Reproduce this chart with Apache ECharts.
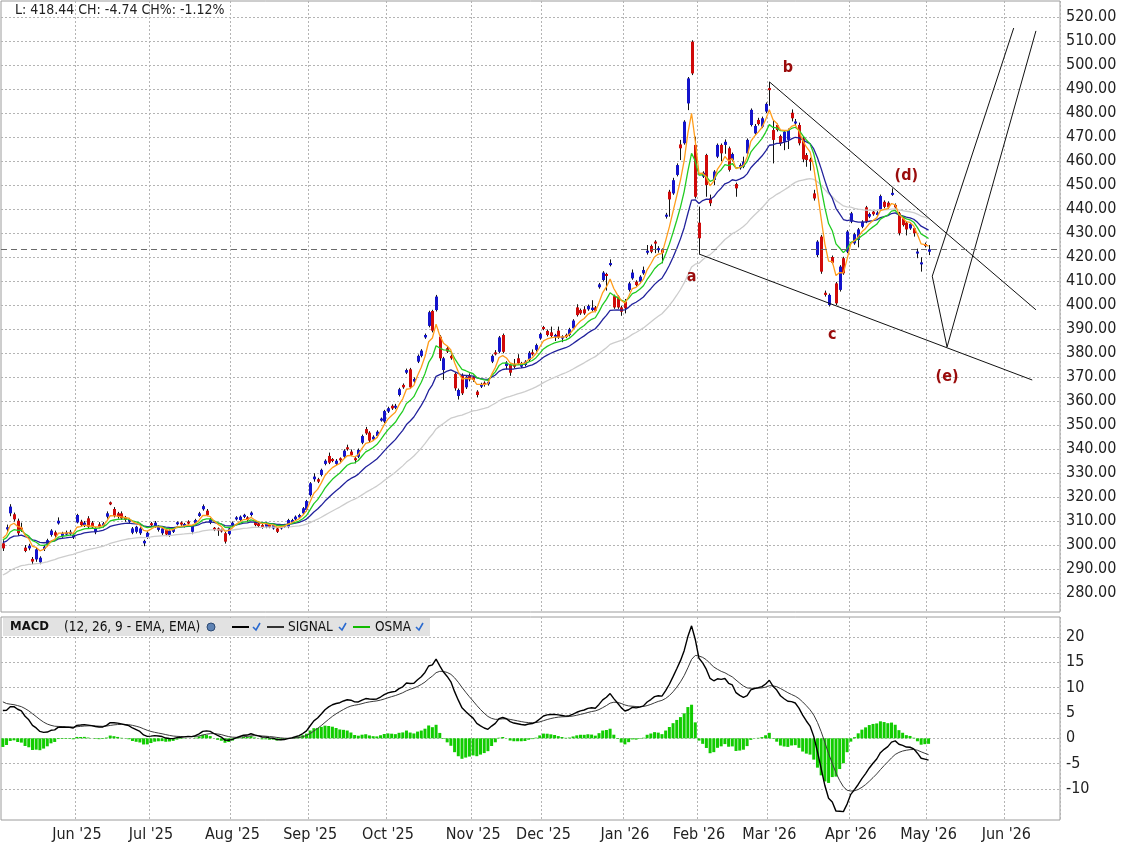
<!DOCTYPE html>
<html>
<head>
<meta charset="utf-8">
<script src="https://cdn.jsdelivr.net/npm/echarts@6/dist/echarts.min.js"></script>
<style>html,body{margin:0;padding:0;background:#fff;}</style>
</head>
<body>
<div id="echartsMain" style="width:1124px;height:849px;"></div>
<script type="text/javascript">
    // ---- data ----
    const holidays = ['2025-05-26', '2025-06-19', '2025-07-04', '2025-09-01', '2025-11-27',
        '2025-12-25', '2026-01-01', '2026-01-19', '2026-02-16', '2026-04-03'];

    // [open, close, low, high], one row per trading day from 2025-05-02 to 2026-05-01
    const candles = [
        [300.7, 298.6, 297.5, 302], [306.5, 307.4, 305, 308.5], [313.2, 316, 312, 317], [312.8, 310.7, 309.8, 313.5],
        [310.1, 304.9, 303.8, 311], [307, 306.6, 305.5, 309.3], [298.9, 297.5, 297, 300], [298.6, 299.7, 297.8, 300.5],
        [294.2, 293.1, 292, 295], [294, 298.2, 293, 298.8], [292.8, 294.7, 292, 295.3], [298.3, 299.3, 297.5, 300],
        [300.5, 302, 299.6, 302.6], [304.2, 306, 303.5, 306.6], [305.3, 303.9, 303, 306], [309, 310.1, 308.5, 311.5],
        [303.8, 304.9, 303, 305.5], [304.4, 305.1, 303.8, 306], [304.6, 305.5, 304, 306.3], [303.2, 304.2, 302.5, 305],
        [309.4, 312.5, 309, 313], [309.7, 308.3, 307.8, 310.5], [308.3, 309.3, 307.5, 310], [311.1, 307.6, 307, 312],
        [309.3, 307.4, 306.8, 310], [305.3, 306.9, 304.5, 307.5], [308.6, 307.6, 307, 309.5], [307.9, 309, 307.3, 309.6],
        [311.8, 313.2, 311, 314], [317.6, 317.1, 316.6, 318.1], [315, 312.1, 311.5, 315.8], [313.2, 311.8, 311, 313.8],
        [313.2, 311.1, 310.5, 314], [311, 310.9, 309.7, 312.1], [309.7, 310.7, 309, 311.3], [305.1, 306.9, 304.5, 307.5],
        [305.5, 307.6, 304.8, 308], [304.9, 306.9, 304.2, 307.4], [300.7, 301.7, 299.5, 302.2], [303.2, 305.1, 302.6, 305.7],
        [309, 308.3, 307.8, 309.6], [307.9, 309.3, 307.2, 310], [306.3, 307.6, 305.6, 308.2], [304.9, 306.9, 304.2, 307.3],
        [306.3, 304.4, 303.7, 306.8], [304.2, 306, 303.4, 306.5], [305.5, 306.9, 305, 307.4], [308.8, 309.3, 308.2, 309.8],
        [309.3, 308.6, 308, 309.8], [308.3, 308.4, 307.3, 309.2], [309.7, 309, 308.5, 310.3], [305.5, 307.9, 304.5, 308.3],
        [309.1, 310.4, 308.6, 310.9], [312.1, 313.2, 311.7, 313.8], [314.9, 316.2, 314.3, 316.9], [314.3, 312.5, 312, 315],
        [309.3, 310.7, 308.7, 311.2], [306.9, 306.6, 305.8, 307.5], [306.9, 306, 303.8, 307.3], [306.3, 305.9, 305.2, 306.8],
        [304.9, 301.4, 300.6, 305.4], [304.6, 306.9, 304, 307.3], [308.3, 309.3, 307.8, 309.8], [310.7, 311.5, 310.2, 312],
        [310.4, 311.8, 309.9, 312.3], [311.8, 312.5, 311.2, 313], [311.5, 310.4, 309.9, 312], [312.5, 313.5, 311.9, 314],
        [309.7, 308.3, 307.8, 310.2], [309, 307.9, 307.3, 309.6], [308.3, 307.4, 306.8, 308.8], [307.6, 309, 307, 309.5],
        [308.3, 307.6, 307, 308.8], [306.9, 308.3, 306.4, 308.8], [306.9, 305.5, 305, 307.4], [306.9, 307.9, 306.4, 308.3],
        [307.6, 308.3, 307.1, 308.8], [307.6, 310.4, 307, 310.9], [309.3, 310.4, 308.8, 310.9], [310.7, 311.8, 310.2, 312.3],
        [311.5, 312.5, 311, 313], [313.2, 315.3, 312.7, 315.8], [314.6, 318.3, 314, 318.8], [320.8, 325.7, 320.2, 326.2],
        [327.4, 328.5, 326.4, 329.9], [327.4, 326.4, 325.8, 328], [329.2, 331.3, 328.6, 331.8], [333.8, 335.1, 333.2, 335.7],
        [337.1, 334.3, 333.7, 338.5], [335.6, 335.2, 334.5, 336.2], [333.8, 335.1, 333.2, 335.8], [335.9, 335.5, 334.6, 336.5],
        [336.8, 339.3, 336.2, 339.9], [340.5, 340.1, 339.3, 341.8], [338.9, 337.5, 337, 339.8], [336.1, 335.4, 334, 336.6],
        [336.8, 339.6, 336.2, 340.2], [342.6, 345.4, 342, 346], [348.3, 346.5, 345.9, 349.2], [346.8, 343.5, 342.9, 347.4],
        [344, 345.1, 343.4, 345.7], [345.4, 347.2, 344.8, 347.8], [351.9, 352.6, 351.4, 353.1], [351.4, 355.8, 350.8, 356.3],
        [355.6, 357, 355, 357.6], [358, 356.9, 356.3, 358.6], [357.2, 358, 356.6, 358.8], [362.5, 364.9, 361.9, 365.5],
        [366.7, 365.7, 365.1, 367.3], [371.8, 372.9, 371.2, 373.5], [373.2, 365.7, 365, 373.8], [368.1, 369.2, 367.4, 369.8],
        [376.4, 378.8, 375.8, 379.4], [378.8, 381, 378.2, 381.6], [386.5, 387.5, 385.9, 388.1], [391.3, 397, 390.7, 397.6],
        [397.5, 389.3, 388.6, 398], [397.9, 403.5, 397.3, 404.2], [386.8, 377.8, 376.7, 387.5], [372.9, 377.8, 368.8, 378.4],
        [382, 380.6, 380, 382.6], [378.8, 377.8, 377.2, 379.4], [371.3, 365.3, 364.3, 371.9], [362.1, 364.6, 360.6, 365.2],
        [370.8, 363.2, 362.5, 371.5], [365.7, 370.1, 365, 370.8], [370.8, 369, 368.2, 371.5], [369.9, 368.8, 368, 370.5],
        [363.9, 362.5, 361.5, 364.5], [366, 367, 365.4, 367.6], [367.6, 366.7, 366, 368.2], [367, 368, 366.4, 368.6],
        [376.4, 378.8, 375.8, 379.4], [380.1, 379.6, 379, 381.2], [380.5, 386.5, 379.9, 387.1], [387.5, 380.5, 379.9, 388.1],
        [374.6, 376, 373.2, 376.6], [375, 371.8, 370.5, 375.6], [375.3, 374.3, 373.7, 377.5], [377.8, 375.7, 375.1, 379.5],
        [374.3, 375.7, 373.7, 376.3], [375, 376.4, 374.4, 377], [377.1, 380.1, 376.5, 380.8], [380.1, 379.6, 378.9, 381.5],
        [381.3, 383.3, 380.6, 383.9], [386.1, 387.9, 385.5, 388.5], [390.7, 390.1, 389.5, 391.3], [389.2, 387.5, 386.9, 389.8],
        [388.6, 387.1, 386.5, 391], [386.8, 387.4, 385, 388], [389.3, 386.5, 385.9, 391], [386.1, 386.8, 384.5, 387.4],
        [387.5, 386.8, 386.2, 388.1], [387.5, 389.9, 386.9, 390.5], [390.3, 393.5, 389.7, 394.1], [399, 395.8, 395.2, 400.3],
        [397.9, 396.5, 395.9, 398.5], [398.2, 396.5, 395.9, 399.5], [398.2, 399.6, 397.6, 400.2], [397.9, 398.9, 397.3, 402],
        [399, 397.6, 397, 399.6], [407.4, 408.6, 406.8, 409.2], [410.4, 413.5, 409.8, 414.1], [412.8, 412.2, 406, 413.4],
        [416.7, 417.4, 416.1, 419], [403.7, 399, 398.4, 404.3], [403.5, 399, 398.4, 404.1], [399, 397.2, 395.5, 399.6],
        [401.4, 398.6, 396.5, 402.5], [406.3, 409, 405.6, 409.6], [411.1, 413.5, 410.5, 414.8], [409.7, 408.3, 407.7, 410.3],
        [409.7, 411.8, 409.1, 412.4], [413.2, 414.6, 412.6, 416], [421.9, 422.5, 421, 425], [424.6, 422.2, 421.6, 425.2],
        [426.3, 425.7, 421.6, 427], [422.9, 423.6, 421.8, 424.5], [422.9, 421.8, 417.4, 423.6], [436.8, 437.6, 436, 438.4],
        [447.2, 444, 436.8, 448], [446.5, 452, 445.9, 453], [454.2, 458.3, 453.6, 459], [466.9, 465.3, 460.4, 468.8],
        [467.4, 476.4, 466.8, 477], [484, 494.4, 481.2, 495], [509.7, 496.5, 495.8, 510.3], [466.7, 445.1, 444.4, 470.1],
        [434.3, 427.8, 421.3, 441], [453.5, 455.1, 452.9, 455.7], [462.5, 450, 445.1, 463], [444.4, 442.4, 441.2, 446],
        [452.1, 455.6, 450, 456.2], [461.8, 466.7, 461.2, 467.3], [466.7, 463.2, 460, 467.3], [466.7, 468, 463, 469],
        [465.3, 456.3, 455.6, 466], [460.4, 462.9, 459.8, 463.5], [450.4, 448.6, 445.1, 451], [457, 458.3, 456.4, 459],
        [457.6, 459.7, 457, 461.8], [463.2, 468.8, 462.6, 469.4], [475, 481.3, 474.4, 481.9], [471.5, 474.6, 470.9, 475.4],
        [477.1, 475.4, 474.8, 478], [474.3, 477.8, 473.7, 478.5], [480.6, 483.8, 480, 484.4], [490.3, 489.6, 483, 492.9],
        [472.9, 468.8, 459, 477], [475, 472.9, 472.3, 475.6], [470.4, 467.4, 466.3, 471], [468, 472.2, 464.5, 472.8],
        [468.8, 472.9, 465, 473.5], [480.1, 477.8, 476.5, 481.5], [475.8, 476.3, 474.5, 477.5], [475, 467.4, 466.5, 476],
        [469.4, 460.7, 459.5, 470], [462.5, 460.4, 457.6, 463.3], [460.7, 459.7, 456, 461.4], [446.5, 444.4, 443.5, 448],
        [420.8, 426.4, 420, 427], [428.5, 413.9, 413, 429.2], [405.1, 404.2, 403.5, 406], [400, 404.2, 399.4, 404.8],
        [420, 417.6, 417, 420.6], [409, 400.7, 400, 409.6], [406.3, 416, 405.6, 416.6], [419.5, 413.2, 412.6, 420.1],
        [422.2, 430.6, 421.6, 431.2], [434.7, 438.2, 434.1, 438.8], [425.7, 429.5, 425.1, 430.1], [427.1, 431.5, 424, 432.1],
        [432.6, 434.7, 432, 435.3], [440.7, 434.7, 434.1, 441.3], [436.8, 437.9, 436.2, 438.5], [438.9, 437.8, 437.2, 439.5],
        [437.5, 438.5, 436.9, 439.1], [439.9, 445.4, 439.3, 446], [443, 440.9, 440.3, 443.6], [442.6, 440.7, 440.1, 443.2],
        [446, 446.6, 445.5, 448.6], [441.7, 440.7, 440.1, 442.3], [438.2, 429.9, 429, 438.8], [436.1, 433.3, 432.7, 436.7],
        [434.3, 431.5, 429, 434.9], [431.9, 433.8, 431.3, 434.3], [432, 429.9, 428.5, 432.5], [421.5, 422.2, 419.5, 423.5],
        [417.1, 417.6, 413.9, 419.9], [425.4, 424.6, 424, 426], [422.2, 423.2, 420.8, 425]
    ];

    // moving-average starting values read at the left edge
    const maSeeds = { orange: 302.8, green: 302.1, navy: 301, gray: 287.5 };
    const macdSeeds = { ema12: 301.6, ema26: 296.1, signal: 7.2 };
    const prevClose = 423.18;

    // trend lines: [startIndex, startPrice, endIndex, endPrice]
    const trendSegments = [
        [207, 493, 279, 398],
        [188, 421.25, 278, 368.75],
        [251, 412, 273, 515.4],
        [251, 412, 255, 382.5],
        [255, 382.5, 279, 514.2]
    ];
    // wave labels: [text, index, price]
    const waveLabels = [['a', 186, 411.7], ['b', 212, 498.8], ['c', 224, 387.5], ['(d)', 244, 454], ['(e)', 255, 370]];

    const priceTicks = { min: 280, max: 520, step: 10 };
    const macdTicks = { min: -10, max: 20, step: 5 };

    // ---- helpers ----
    function weekdays(from, to, skip) {
        let out = [];
        let d = new Date(from + 'T00:00:00Z');
        let end = new Date(to + 'T00:00:00Z');
        while (d <= end) {
            let s = d.toISOString().slice(0, 10);
            let wd = d.getUTCDay();
            if (wd !== 0 && wd !== 6 && skip.indexOf(s) < 0) out.push(s);
            d.setUTCDate(d.getUTCDate() + 1);
        }
        return out;
    }

    function ema(src, period, seed) {
        let k = 2 / (period + 1);
        let out = [];
        let prev = seed;
        src.forEach((v, i) => {
            if (i > 0) prev = prev + k * (v - prev);
            out.push(+prev.toFixed(3));
        });
        return out;
    }

    const dates = weekdays('2025-05-02', '2026-05-01', holidays)
        .concat(weekdays('2026-05-04', '2026-06-19', []));
    const closes = candles.map(c => c[1]);

    const maOrange = ema(closes, 5, maSeeds.orange);
    const maGreen = ema(closes, 10, maSeeds.green);
    const maNavy = ema(closes, 20, maSeeds.navy);
    const maGray = ema(closes, 50, maSeeds.gray);

    const e12 = ema(closes, 12, macdSeeds.ema12);
    const e26 = ema(closes, 26, macdSeeds.ema26);
    const macd = e12.map((v, i) => +(v - e26[i]).toFixed(3));
    const signal = ema(macd, 9, macdSeeds.signal);
    const osma = macd.map((v, i) => +(v - signal[i]).toFixed(3));

    const months = ['Jan', 'Feb', 'Mar', 'Apr', 'May', 'Jun', 'Jul', 'Aug', 'Sep', 'Oct', 'Nov', 'Dec'];
    function isMonthStart(i) {
        return i > 0 && dates[i].slice(5, 7) !== dates[i - 1].slice(5, 7);
    }
    function monthLabel(v) {
        return months[+v.slice(5, 7) - 1] + " '" + v.slice(2, 4);
    }

    const FONT = '"DejaVu Sans Condensed", "DejaVu Sans", sans-serif';
    const upColor = '#1414cc';
    const downColor = '#d00a0a';
    const gridLine = { show: true, lineStyle: { color: '#b4b4b4', type: [2, 2], width: 1 } };

    function renderCandle(params, api) {
        let i = api.value(0);
        let o = api.coord([i, api.value(1)]);
        let c = api.coord([i, api.value(2)]);
        let lo = api.coord([i, api.value(3)]);
        let hi = api.coord([i, api.value(4)]);
        let cx = Math.round(o[0]);
        let top = Math.min(o[1], c[1]);
        let h = Math.abs(o[1] - c[1]);
        if (h < 2) {
            top = (o[1] + c[1]) / 2 - 1;
            h = 2;
        }
        let up = api.value(2) >= api.value(1);
        return {
            type: 'group',
            children: [
                { type: 'line', shape: { x1: cx + 0.5, y1: hi[1], x2: cx + 0.5, y2: lo[1] }, style: { stroke: '#111', lineWidth: 1 } },
                { type: 'rect', shape: { x: cx - 1, y: top, width: 3, height: h }, style: { fill: up ? upColor : downColor } }
            ]
        };
    }

    function checkMark(x) {
        return {
            type: 'polyline',
            shape: { points: [[x - 3, 627], [x, 630], [x + 4, 623]] },
            style: { stroke: '#2a6ad0', lineWidth: 1.6, fill: null }
        };
    }

    let myChart = echarts.init(document.getElementById('echartsMain'));

    let hiddenCat = (grid) => ({
        type: 'category', gridIndex: grid, data: dates, boundaryGap: true,
        axisLine: { show: false }, axisTick: { show: false }, axisLabel: { show: false }, splitLine: { show: false }
    });
    let frameCat = (grid, labels) => ({
        type: 'category', gridIndex: grid, data: dates, boundaryGap: true, position: 'bottom',
        axisLine: { show: false }, axisTick: { show: false },
        axisLabel: {
            show: labels, interval: isMonthStart, formatter: monthLabel, margin: 7,
            color: '#222', fontSize: 16, fontFamily: FONT
        },
        splitLine: Object.assign({ interval: isMonthStart }, gridLine)
    });

    let option = {
        animation: false,
        backgroundColor: '#fff',
        grid: [
            { left: 1, right: 64, top: 17, height: 576, outerBoundsMode: 'none' },
            { left: 1, right: 64, top: 1, height: 611, show: true, borderColor: '#9c9c9c', borderWidth: 1, backgroundColor: 'transparent', outerBoundsMode: 'none' },
            { left: 1, right: 64, top: 637, height: 152, outerBoundsMode: 'none' },
            { left: 1, right: 64, top: 617, height: 203, show: true, borderColor: '#9c9c9c', borderWidth: 1, backgroundColor: 'transparent', outerBoundsMode: 'none' }
        ],
        xAxis: [hiddenCat(0), frameCat(1, false), hiddenCat(2), frameCat(3, true)],
        yAxis: [
            {
                type: 'value', gridIndex: 0, position: 'right', min: priceTicks.min, max: priceTicks.max, interval: priceTicks.step,
                axisLine: { show: false }, axisTick: { show: false },
                axisLabel: { formatter: v => v.toFixed(2), margin: 6, color: '#222', fontSize: 16, fontFamily: FONT },
                splitLine: gridLine
            },
            { type: 'value', gridIndex: 1, show: false, min: 0, max: 1 },
            {
                type: 'value', gridIndex: 2, position: 'right', min: macdTicks.min, max: macdTicks.max, interval: macdTicks.step,
                axisLine: { show: false }, axisTick: { show: false },
                axisLabel: { margin: 6, color: '#222', fontSize: 16, fontFamily: FONT },
                splitLine: gridLine
            },
            { type: 'value', gridIndex: 3, show: false, min: 0, max: 1 }
        ],
        series: [
            {
                name: 'Candles', type: 'custom', xAxisIndex: 0, yAxisIndex: 0, z: 2,
                renderItem: renderCandle,
                encode: { x: 0, y: [1, 2, 3, 4] },
                data: candles.map((c, i) => [i, c[0], c[1], c[2], c[3]])
            },
            {
                name: 'MA gray', type: 'line', xAxisIndex: 0, yAxisIndex: 0, z: 3, data: maGray,
                showSymbol: false, lineStyle: { color: '#cdcdcd', width: 1.3 },
                markLine: {
                    silent: true, symbol: ['none', 'none'], label: { show: false },
                    lineStyle: { color: '#111', width: 1, type: 'solid' },
                    data: trendSegments.map(s => [{ coord: [s[0], s[1]] }, { coord: [s[2], s[3]] }])
                },
                markPoint: {
                    silent: true, symbol: 'circle', symbolSize: 1, itemStyle: { color: 'rgba(0,0,0,0)' },
                    label: {
                        show: true, position: 'inside', formatter: p => p.name,
                        color: '#9a0c0c', fontSize: 16, fontWeight: 'bold', fontFamily: FONT
                    },
                    data: waveLabels.map(w => ({ name: w[0], coord: [w[1], w[2]] }))
                }
            },
            { name: 'MA navy', type: 'line', xAxisIndex: 0, yAxisIndex: 0, z: 3, data: maNavy, showSymbol: false, lineStyle: { color: '#22229c', width: 1.3 } },
            { name: 'MA green', type: 'line', xAxisIndex: 0, yAxisIndex: 0, z: 3, data: maGreen, showSymbol: false, lineStyle: { color: '#22cc22', width: 1.3 } },
            {
                name: 'MA orange', type: 'line', xAxisIndex: 0, yAxisIndex: 0, z: 3, data: maOrange,
                showSymbol: false, lineStyle: { color: '#ff9d1c', width: 1.3 },
                markLine: {
                    silent: true, symbol: ['none', 'none'], label: { show: false },
                    lineStyle: { color: '#6a6a6a', width: 1, type: [6, 4] },
                    data: [{ yAxis: prevClose }]
                }
            },
            {
                name: 'OSMA', type: 'bar', xAxisIndex: 2, yAxisIndex: 2, data: osma,
                barWidth: 3, itemStyle: { color: '#11cc00' }
            },
            {
                name: 'SIGNAL', type: 'line', xAxisIndex: 2, yAxisIndex: 2, data: signal, clip: false,
                showSymbol: false, lineStyle: { color: '#3a3a3a', width: 1 }
            },
            {
                name: 'MACD', type: 'line', xAxisIndex: 2, yAxisIndex: 2, data: macd, clip: false,
                showSymbol: false, lineStyle: { color: '#000', width: 1.4 }
            }
        ],
        graphic: [
            {
                type: 'text', left: 15, top: 3, z: 10,
                style: { text: 'L: 418.44 CH: -4.74 CH%: -1.12%', fill: '#222', font: '14px ' + FONT }
            },
            { type: 'rect', shape: { x: 3, y: 618, width: 427, height: 18 }, style: { fill: '#e2e2e2' }, z: 10 },
            { type: 'text', x: 10, y: 627, z: 11, style: { text: 'MACD', fill: '#111', font: 'bold 13px ' + FONT, verticalAlign: 'middle' } },
            { type: 'text', x: 64, y: 627, z: 11, style: { text: '(12, 26, 9 - EMA, EMA)', fill: '#111', font: '13.5px ' + FONT, verticalAlign: 'middle' } },
            { type: 'circle', shape: { cx: 211, cy: 627, r: 4 }, style: { fill: '#5f83b4', stroke: '#2d4a73', lineWidth: 1 }, z: 11 },
            { type: 'line', shape: { x1: 232, y1: 627, x2: 249, y2: 627 }, style: { stroke: '#000', lineWidth: 2 }, z: 11 },
            Object.assign(checkMark(256), { z: 11 }),
            { type: 'line', shape: { x1: 267, y1: 627, x2: 284, y2: 627 }, style: { stroke: '#333', lineWidth: 2 }, z: 11 },
            { type: 'text', x: 288, y: 627, z: 11, style: { text: 'SIGNAL', fill: '#111', font: '13.5px ' + FONT, verticalAlign: 'middle' } },
            Object.assign(checkMark(342), { z: 11 }),
            { type: 'line', shape: { x1: 353, y1: 627, x2: 370, y2: 627 }, style: { stroke: '#11bb00', lineWidth: 2 }, z: 11 },
            { type: 'text', x: 375, y: 627, z: 11, style: { text: 'OSMA', fill: '#111', font: '13.5px ' + FONT, verticalAlign: 'middle' } },
            Object.assign(checkMark(419), { z: 11 })
        ]
    };
    myChart.setOption(option);
</script>
</body>
</html>
